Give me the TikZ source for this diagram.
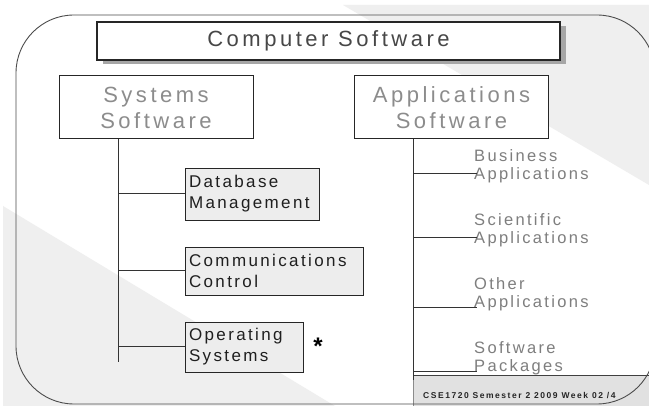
\documentclass[tikz,border=0pt]{standalone}
\usepackage{fontspec}
\setmainfont{Liberation Sans}
\newfontfamily\headfont[LetterSpace=16]{Liberation Sans}
\newfontfamily\itemfont[LetterSpace=14]{Liberation Sans}
\newfontfamily\footfont[LetterSpace=18]{Liberation Sans Bold}
\usetikzlibrary{calc,shadows}
\definecolor{bggray}{HTML}{EFEFEF}
\definecolor{boxgray}{HTML}{EDEDED}
\definecolor{labelgray}{HTML}{7E7E7E}

\begin{document}
\begin{tikzpicture}[x=1pt,y=-1pt,
  top/.style = {draw=black!85, line width=1.3pt, fill=white, minimum width=463pt, minimum height=38pt,
    font=\headfont\fontsize{22}{24}\selectfont, text=black!72,
    drop shadow={shadow xshift=6pt, shadow yshift=-4pt, fill=black!35, opacity=1}},
  group/.style = {draw=black!85, line width=1pt, fill=white, minimum width=194pt, minimum height=63pt,
    align=center, font=\headfont\fontsize{22}{26}\selectfont, text=black!45},
  sub/.style = {draw=black!85, line width=0.9pt, fill=boxgray, inner xsep=4pt, minimum height=50pt,
    align=left, font=\itemfont\fontsize{17}{21}\selectfont, text=black!88},
  label/.style = {anchor=west, inner sep=0pt, align=left, text=labelgray,
    font=\itemfont\fontsize{16.5}{18.5}\selectfont},
  branch/.style = {draw=black!80, line width=1pt}]

\useasboundingbox (0,0) rectangle (649,406);
\fill[white] (0,0) rectangle (649,406);
% slide background
\fill[bggray] (3,206) -- (335,406) -- (3,406) -- cycle;
\fill[bggray] (343,5) -- (649,5) -- (649,185) -- cycle;
\fill[boxgray!95!black] (413,375) rectangle (649,406);
\draw[black!45] (413,406) -- (413,375);
\draw[black!75, line width=0.9pt] (413,375) -- (649,375);
\draw[black!70, line width=0.9pt, rounded corners=58pt] (16,15) rectangle (655,404);

\node[top] (cs) at (328.5,41) {Computer Software};
\node[group] (sys) at (156,107.5) {Systems\\Software};
\node[group] (app) at (451.5,107.5) {Applications\\Software};

\node[sub, text width=126pt, minimum height=52pt] (db) at (252,194) {Database\\Management};
\node[sub, text width=170pt, minimum height=48pt] (comm) at (274,271) {Communications\\Control};
\node[sub, text width=110pt] (os) at (244,347) {Operating\\Systems};
\node[font=\fontsize{24}{24}\selectfont\bfseries] (star) at (318,346) {*};

\node[label] (busi) at (474,166) {Business\\Applications};
\node[label] (sci) at (474,230) {Scientific\\Applications};
\node[label] (oth) at (474,294) {Other\\Applications};
\node[label] (pack) at (474,358) {Software\\Packages};

\node[anchor=west, inner sep=0pt, text=black!85, font=\footfont\fontsize{8.5}{9}\selectfont] (foot) at (423,396)
  {CSE1720 Semester 2 2009 Week 02 /4};

% systems tree
\coordinate (sysbot) at (118,362);
\draw[branch] (sys.south -| sysbot) -- (sysbot);
\foreach \n in {db,comm,os}
  \draw[branch] (sysbot |- \n.west) -- (\n.west);

% applications tree
\coordinate (appbot) at (413,380);
\draw[branch] (app.south -| appbot) -- (appbot);
\foreach \n/\d in {busi/7.5,sci/8,oth/14,pack/14}{
  \coordinate (\n-e) at ([shift={(3,\d)}]\n.west);
  \draw[branch] (appbot |- \n-e) -- (\n-e);
}
\end{tikzpicture}
\end{document}
